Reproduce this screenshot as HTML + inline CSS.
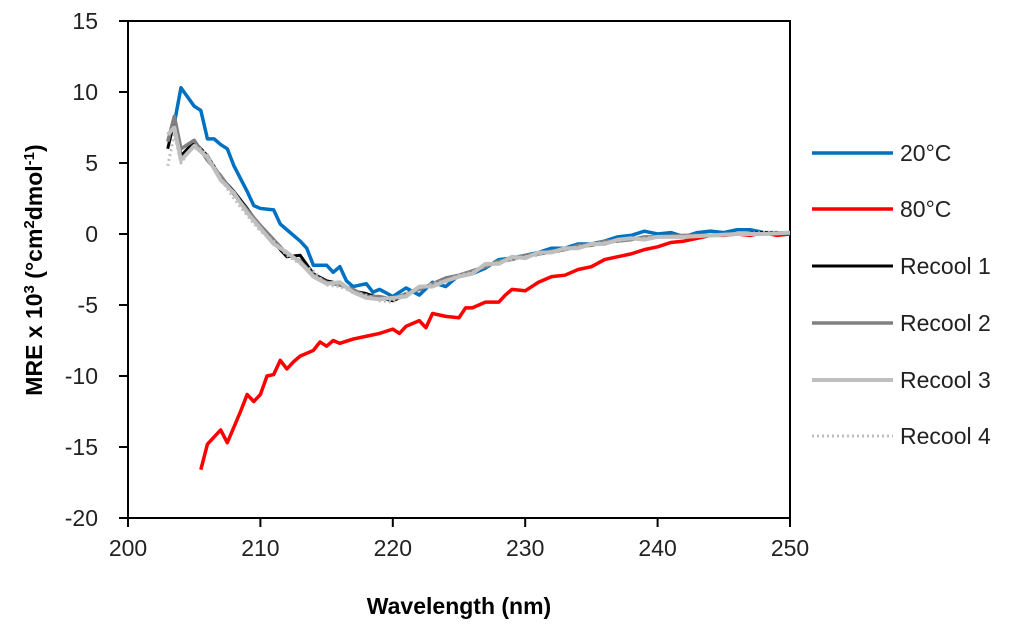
<!DOCTYPE html>
<html><head><meta charset="utf-8"><style>
body{margin:0;background:#fff;}
svg text{font-family:"Liberation Sans",sans-serif;}
</style></head><body>
<svg id="c" width="1024" height="634" xmlns="http://www.w3.org/2000/svg"></svg>
<script>
const xTicks=[200,210,220,230,240,250];
const yTicks=[15,10,5,0,-5,-10,-15,-20];
const seriesNames=["20°C","80°C","Recool 1","Recool 2","Recool 3","Recool 4"];
const wl20=[203.5,204,205,205.5,206,206.5,207,207.5,208,209,209.5,210,211,211.5,212,213,213.5,214,215,215.5,216,216.5,217,218,218.5,219,220,221,222,223,224,225,226,227,228,229,230,231,232,233,234,235,236,237,238,239,240,241,242,243,244,245,246,247,248,249,250];
const v20=[7.8,10.3,9,8.7,6.7,6.7,6.3,6,4.8,3,2,1.8,1.7,0.7,0.3,-0.5,-1,-2.2,-2.2,-2.7,-2.3,-3.3,-3.7,-3.5,-4.1,-3.9,-4.4,-3.8,-4.3,-3.4,-3.7,-2.9,-2.8,-2.4,-1.8,-1.7,-1.5,-1.3,-1,-1,-0.7,-0.7,-0.5,-0.2,-0.1,0.2,0,0.1,-0.2,0.1,0.2,0.1,0.3,0.3,0.1,0.1,0];
const wl80=[205.5,206,207,207.5,208.5,209,209.5,210,210.5,211,211.5,212,212.5,213,214,214.5,215,215.5,216,217,218,219,220,220.5,221,222,222.5,223,224,225,225.5,226,227,228,228.5,229,230,231,232,233,234,235,236,237,238,239,240,241,242,243,244,245,246,247,248,249,250];
const v80=[-16.6,-14.8,-13.8,-14.7,-12.5,-11.3,-11.8,-11.3,-10,-9.9,-8.9,-9.5,-9,-8.6,-8.2,-7.6,-7.9,-7.5,-7.7,-7.4,-7.2,-7,-6.7,-7,-6.5,-6.1,-6.6,-5.6,-5.8,-5.9,-5.2,-5.2,-4.8,-4.8,-4.3,-3.9,-4,-3.4,-3,-2.9,-2.5,-2.3,-1.8,-1.6,-1.4,-1.1,-0.9,-0.6,-0.5,-0.3,-0.1,-0.1,0,-0.1,0.1,-0.1,0];
const wlR=[203,203.5,204,205,206,207,208,209,210,211,212,213,214,215,216,217,218,219,220,221,222,223,224,225,226,227,228,229,230,231,232,233,234,235,236,237,238,239,240,242,244,246,248,250];
const vR1=[6,8,5.5,6.5,5.5,4,3,1.8,0.5,-0.6,-1.6,-1.5,-2.8,-3.3,-3.5,-4,-4.2,-4.5,-4.7,-4.3,-3.8,-3.6,-3.2,-3,-2.7,-2.2,-2,-1.7,-1.6,-1.4,-1.3,-1.1,-0.9,-0.8,-0.6,-0.5,-0.3,-0.3,-0.2,-0.2,-0.1,0,0.1,0.1];
const vR2=[6.5,8.3,6,6.6,5.2,4.1,2.8,1.7,0.6,-0.4,-1.4,-1.9,-2.9,-3.4,-3.6,-3.9,-4.4,-4.4,-4.6,-4.2,-3.9,-3.5,-3.1,-2.9,-2.6,-2.3,-1.9,-1.8,-1.5,-1.4,-1.2,-1.1,-0.8,-0.8,-0.5,-0.5,-0.4,-0.2,-0.2,-0.1,-0.1,0,0,0.1];
const vR3=[7,7.5,5.2,6.2,5.4,3.8,2.9,1.5,0.4,-0.7,-1.3,-2,-3,-3.5,-3.4,-4.1,-4.5,-4.6,-4.5,-4.4,-3.7,-3.7,-3.3,-3,-2.8,-2.1,-2.1,-1.6,-1.7,-1.3,-1.3,-1,-1,-0.7,-0.7,-0.4,-0.3,-0.4,-0.2,-0.2,-0.1,0,0,0.1];
const vR4=[4.8,7,5,6.3,5.6,3.9,2.5,1.3,0.2,-0.5,-1.5,-2.1,-2.6,-3.6,-3.7,-4.1,-4.3,-4.7,-4.8,-4.2,-3.8,-3.5,-3.3,-2.9,-2.7,-2.2,-2,-1.8,-1.6,-1.5,-1.2,-1.1,-0.9,-0.7,-0.6,-0.5,-0.3,-0.3,-0.2,-0.2,-0.1,0,0.1,0.1];

const L=128,R=790,T=21,B=518;
const X=w=>L+(w-200)/50*(R-L);
const Y=v=>T+(15-v)/35*(B-T);
const svg=document.getElementById('c');
const NS='http://www.w3.org/2000/svg';
function mk(tag,attrs,parent){const e=document.createElementNS(NS,tag);for(const k in attrs)e.setAttribute(k,attrs[k]);(parent||svg).appendChild(e);return e;}

const frame=mk('rect',{x:L,y:T,width:R-L,height:B-T,fill:'none',stroke:'#000','stroke-width':2});


yTicks.forEach(v=>{
  const t=mk('line',{x1:L-9,x2:L,y1:Y(v),y2:Y(v),stroke:'#000','stroke-width':2});
  
  
  const tx=mk('text',{x:L-30,y:Y(v)+8,'text-anchor':'end','font-size':23,fill:'#222'});
  tx.textContent=v;
  
  
});
xTicks.forEach(w=>{
  const t=mk('line',{x1:X(w),x2:X(w),y1:B,y2:B+9,stroke:'#000','stroke-width':2});
  
  
  const tx=mk('text',{x:X(w),y:B+38,'text-anchor':'middle','font-size':23,fill:'#222'});
  tx.textContent=w;
  
  
});
const xt=mk('text',{x:459,y:614,'text-anchor':'middle','font-size':23,'font-weight':'bold'});
xt.textContent='Wavelength (nm)';


const yt=mk('text',{x:0,y:0,'text-anchor':'middle','font-size':23,'font-weight':'bold',transform:'translate(42,270) rotate(-90)'});
yt.innerHTML='MRE x 10<tspan dy="-8" font-size="15">3</tspan><tspan dy="8"> (°cm</tspan><tspan dy="-8" font-size="15">2</tspan><tspan dy="8">dmol</tspan><tspan dy="-8" font-size="15">-1</tspan><tspan dy="8">)</tspan>';



const styles=[
 {c:'#0070c0',w:3.5,d:''},{c:'#ff0000',w:3.5,d:''},{c:'#000',w:3,d:''},
 {c:'#808080',w:3.5,d:''},{c:'#bfbfbf',w:4,d:''},{c:'#bfbfbf',w:3,d:'2,3'}];
const data=[[wl20,v20],[wl80,v80],[wlR,vR1],[wlR,vR2],[wlR,vR3],[wlR,vR4]];
const names=['series-20c','series-80c','series-recool-1','series-recool-2','series-recool-3','series-recool-4'];
const order=[1,0,2,3,4,5];
order.forEach(i=>{
  const [ws,vs]=data[i],s=styles[i];
  const p=mk('polyline',{points:ws.map((w,j)=>X(w)+','+Y(vs[j])).join(' '),fill:'none',stroke:s.c,'stroke-width':s.w,'stroke-linejoin':'round','stroke-dasharray':s.d});
  
  
});
const ly=[153,209,266,323,380,436];
seriesNames.forEach((n,i)=>{
  const s=styles[i];
  const g=mk('g',{});
  
  
  mk('line',{x1:812,x2:893,y1:ly[i],y2:ly[i],stroke:s.c,'stroke-width':s.w,'stroke-dasharray':s.d},g);
  const t=mk('text',{x:900,y:ly[i]+8,'font-size':23,fill:'#222'},g);
  t.textContent=n;
});
</script>
</body></html>
